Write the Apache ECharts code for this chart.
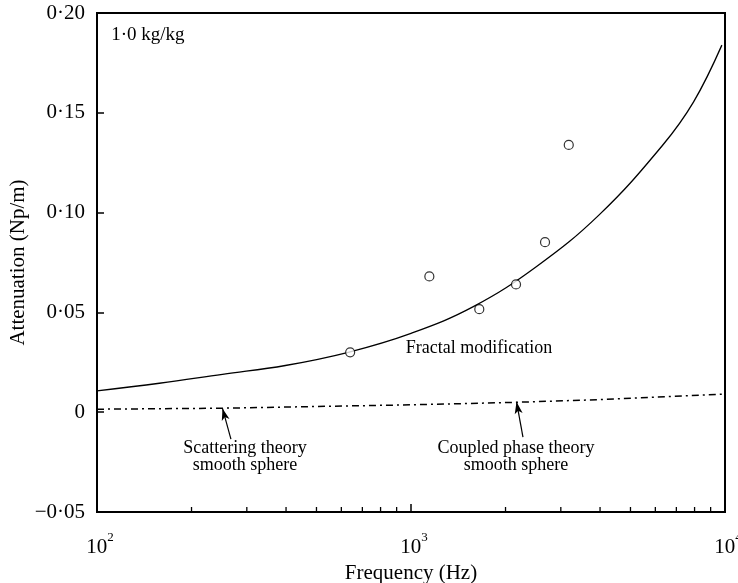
<!DOCTYPE html>
<html>
<head>
<meta charset="utf-8">
<script src="https://cdn.jsdelivr.net/npm/echarts@6/dist/echarts.min.js"></script>
<style>
html,body{margin:0;padding:0;background:#fff;}
#chart{width:738px;height:583px;}
</style>
</head>
<body>
<div id="chart"></div>
<script>
// ---- data ----
var curveFreq = [100, 158, 251, 398, 631, 1000, 1585, 2512, 3981, 6310, 7943, 9772];
var curveVal  = [0.0107, 0.0145, 0.0190, 0.0234, 0.0300, 0.0395, 0.0530, 0.0730, 0.0990, 0.1335, 0.1555, 0.1839];

var smoothFreq = [100, 250, 1000, 2100, 4000, 10000];
var smoothVal  = [0.0015, 0.0020, 0.0037, 0.0049, 0.0063, 0.0091];

var measFreq = [640, 1144, 1650, 2160, 2672, 3180];
var measVal  = [0.0300, 0.0680, 0.0516, 0.0640, 0.0852, 0.1339];

var minorTicks = [200, 300, 400, 500, 600, 700, 800, 900, 2000, 3000, 4000, 5000, 6000, 7000, 8000, 9000];

var labelTexts = ['1\u00b70 kg/kg', 'Fractal modification', 'Scattering theory\nsmooth sphere', 'Coupled phase theory\nsmooth sphere'];
var labelAt    = [[111, 0.1889], [1647, 0.0321], [296, -0.0223], [2160, -0.0223]];
var arrowFrom  = [[267, -0.0135], [2273, -0.0125]];
var arrowTo    = [[251, 0.0019], [2168, 0.0052]];

function pairs(a, b) { return a.map(function (v, i) { return [v, b[i]]; }); }

var FONT = 'Liberation Serif';
var chart = echarts.init(document.getElementById('chart'), null, {renderer: 'canvas'});

function yFmt(v) {
  var r = Math.round(v * 100) / 100;
  if (Math.abs(r) < 1e-9) return '0';
  var s = Math.abs(r).toFixed(2).replace('.', '\u00b7');
  return (r < 0 ? '\u2212' : '') + s;
}

var option = {
  animation: false,
  backgroundColor: '#fff',
  grid: {left: 97, right: 13, top: 13, bottom: 71, containLabel: false, outerBoundsMode: 'none',
         show: true, borderColor: '#000', borderWidth: 2, backgroundColor: 'transparent'},
  xAxis: {
    type: 'log', logBase: 10, min: 100, max: 10000,
    name: 'Frequency (Hz)', nameLocation: 'middle', nameGap: 51, nameMoveOverlap: false,
    nameTextStyle: {fontFamily: FONT, fontSize: 21, color: '#000'},
    axisLine: {onZero: false, lineStyle: {color: '#000', width: 2}},
    axisTick: {inside: true, length: 8, lineStyle: {color: '#000', width: 1.5}},
    splitLine: {show: false},
    minorTick: {show: false},
    axisLabel: {
      margin: 19, color: '#000',
      formatter: function (v) {
        var e = Math.round(Math.log(v) / Math.LN10);
        return '{b|10}{s|' + e + '}';
      },
      rich: {
        b: {fontFamily: FONT, fontSize: 21, color: '#000', padding: [0, 0, 0, 6]},
        s: {fontFamily: FONT, fontSize: 13, color: '#000', padding: [0, 0, 20, 0]}
      }
    }
  },
  yAxis: {
    type: 'value', min: -0.05, max: 0.2, interval: 0.05,
    name: 'Attenuation (Np/m)', nameLocation: 'middle', nameGap: 68, nameMoveOverlap: false,
    nameTextStyle: {fontFamily: FONT, fontSize: 21, color: '#000'},
    axisLine: {show: true, onZero: false, lineStyle: {color: '#000', width: 2}},
    axisTick: {show: true, inside: true, length: 7, lineStyle: {color: '#000', width: 1.5}},
    splitLine: {show: false},
    axisLabel: {margin: 12, fontFamily: FONT, fontSize: 21, color: '#000', formatter: yFmt}
  },
  series: [
    {
      type: 'line', name: 'fractal', data: pairs(curveFreq, curveVal), smooth: 0.4,
      showSymbol: false, lineStyle: {color: '#000', width: 1.3}, z: 3
    },
    {
      type: 'line', name: 'smooth', data: pairs(smoothFreq, smoothVal), smooth: false,
      showSymbol: false, lineStyle: {color: '#000', width: 1.5, type: [7, 4, 2, 4]}, z: 3,
      markLine: {
        silent: true, animation: false,
        symbol: ['none', 'arrow'], symbolSize: [6, 12],
        label: {show: false},
        lineStyle: {color: '#000', width: 1.2, type: 'solid'},
        data: arrowFrom.map(function (p, i) { return [{coord: p}, {coord: arrowTo[i]}]; })
      }
    },
    {
      type: 'scatter', name: 'measured', data: pairs(measFreq, measVal),
      symbol: 'circle', symbolSize: 9,
      itemStyle: {color: '#fff', borderColor: '#000', borderWidth: 1.2}, z: 4
    },
    {
      type: 'custom', name: 'minorTicks', silent: true, z: 5,
      data: minorTicks.map(function (v) { return [v, -0.05]; }),
      encode: {x: 0, y: 1},
      clip: false,
      renderItem: function (params, api) {
        var p = api.coord([api.value(0), api.value(1)]);
        return {type: 'line', shape: {x1: p[0], y1: p[1], x2: p[0], y2: p[1] - 5}, style: {stroke: '#000', lineWidth: 1.3}};
      }
    }
  ]
};
chart.setOption(option);

var g = labelTexts.map(function (t, i) {
  var p = chart.convertToPixel({gridIndex: 0}, labelAt[i]);
  return {
    type: 'text', x: p[0], y: p[1], z: 10,
    style: {
      text: t, fill: '#000', font: (i === 0 ? '19px ' : '18px ') + '"' + FONT + '"',
      align: i === 0 ? 'left' : 'center', verticalAlign: 'middle', lineHeight: 17
    }
  };
});
chart.setOption({graphic: g});
</script>
</body>
</html>
